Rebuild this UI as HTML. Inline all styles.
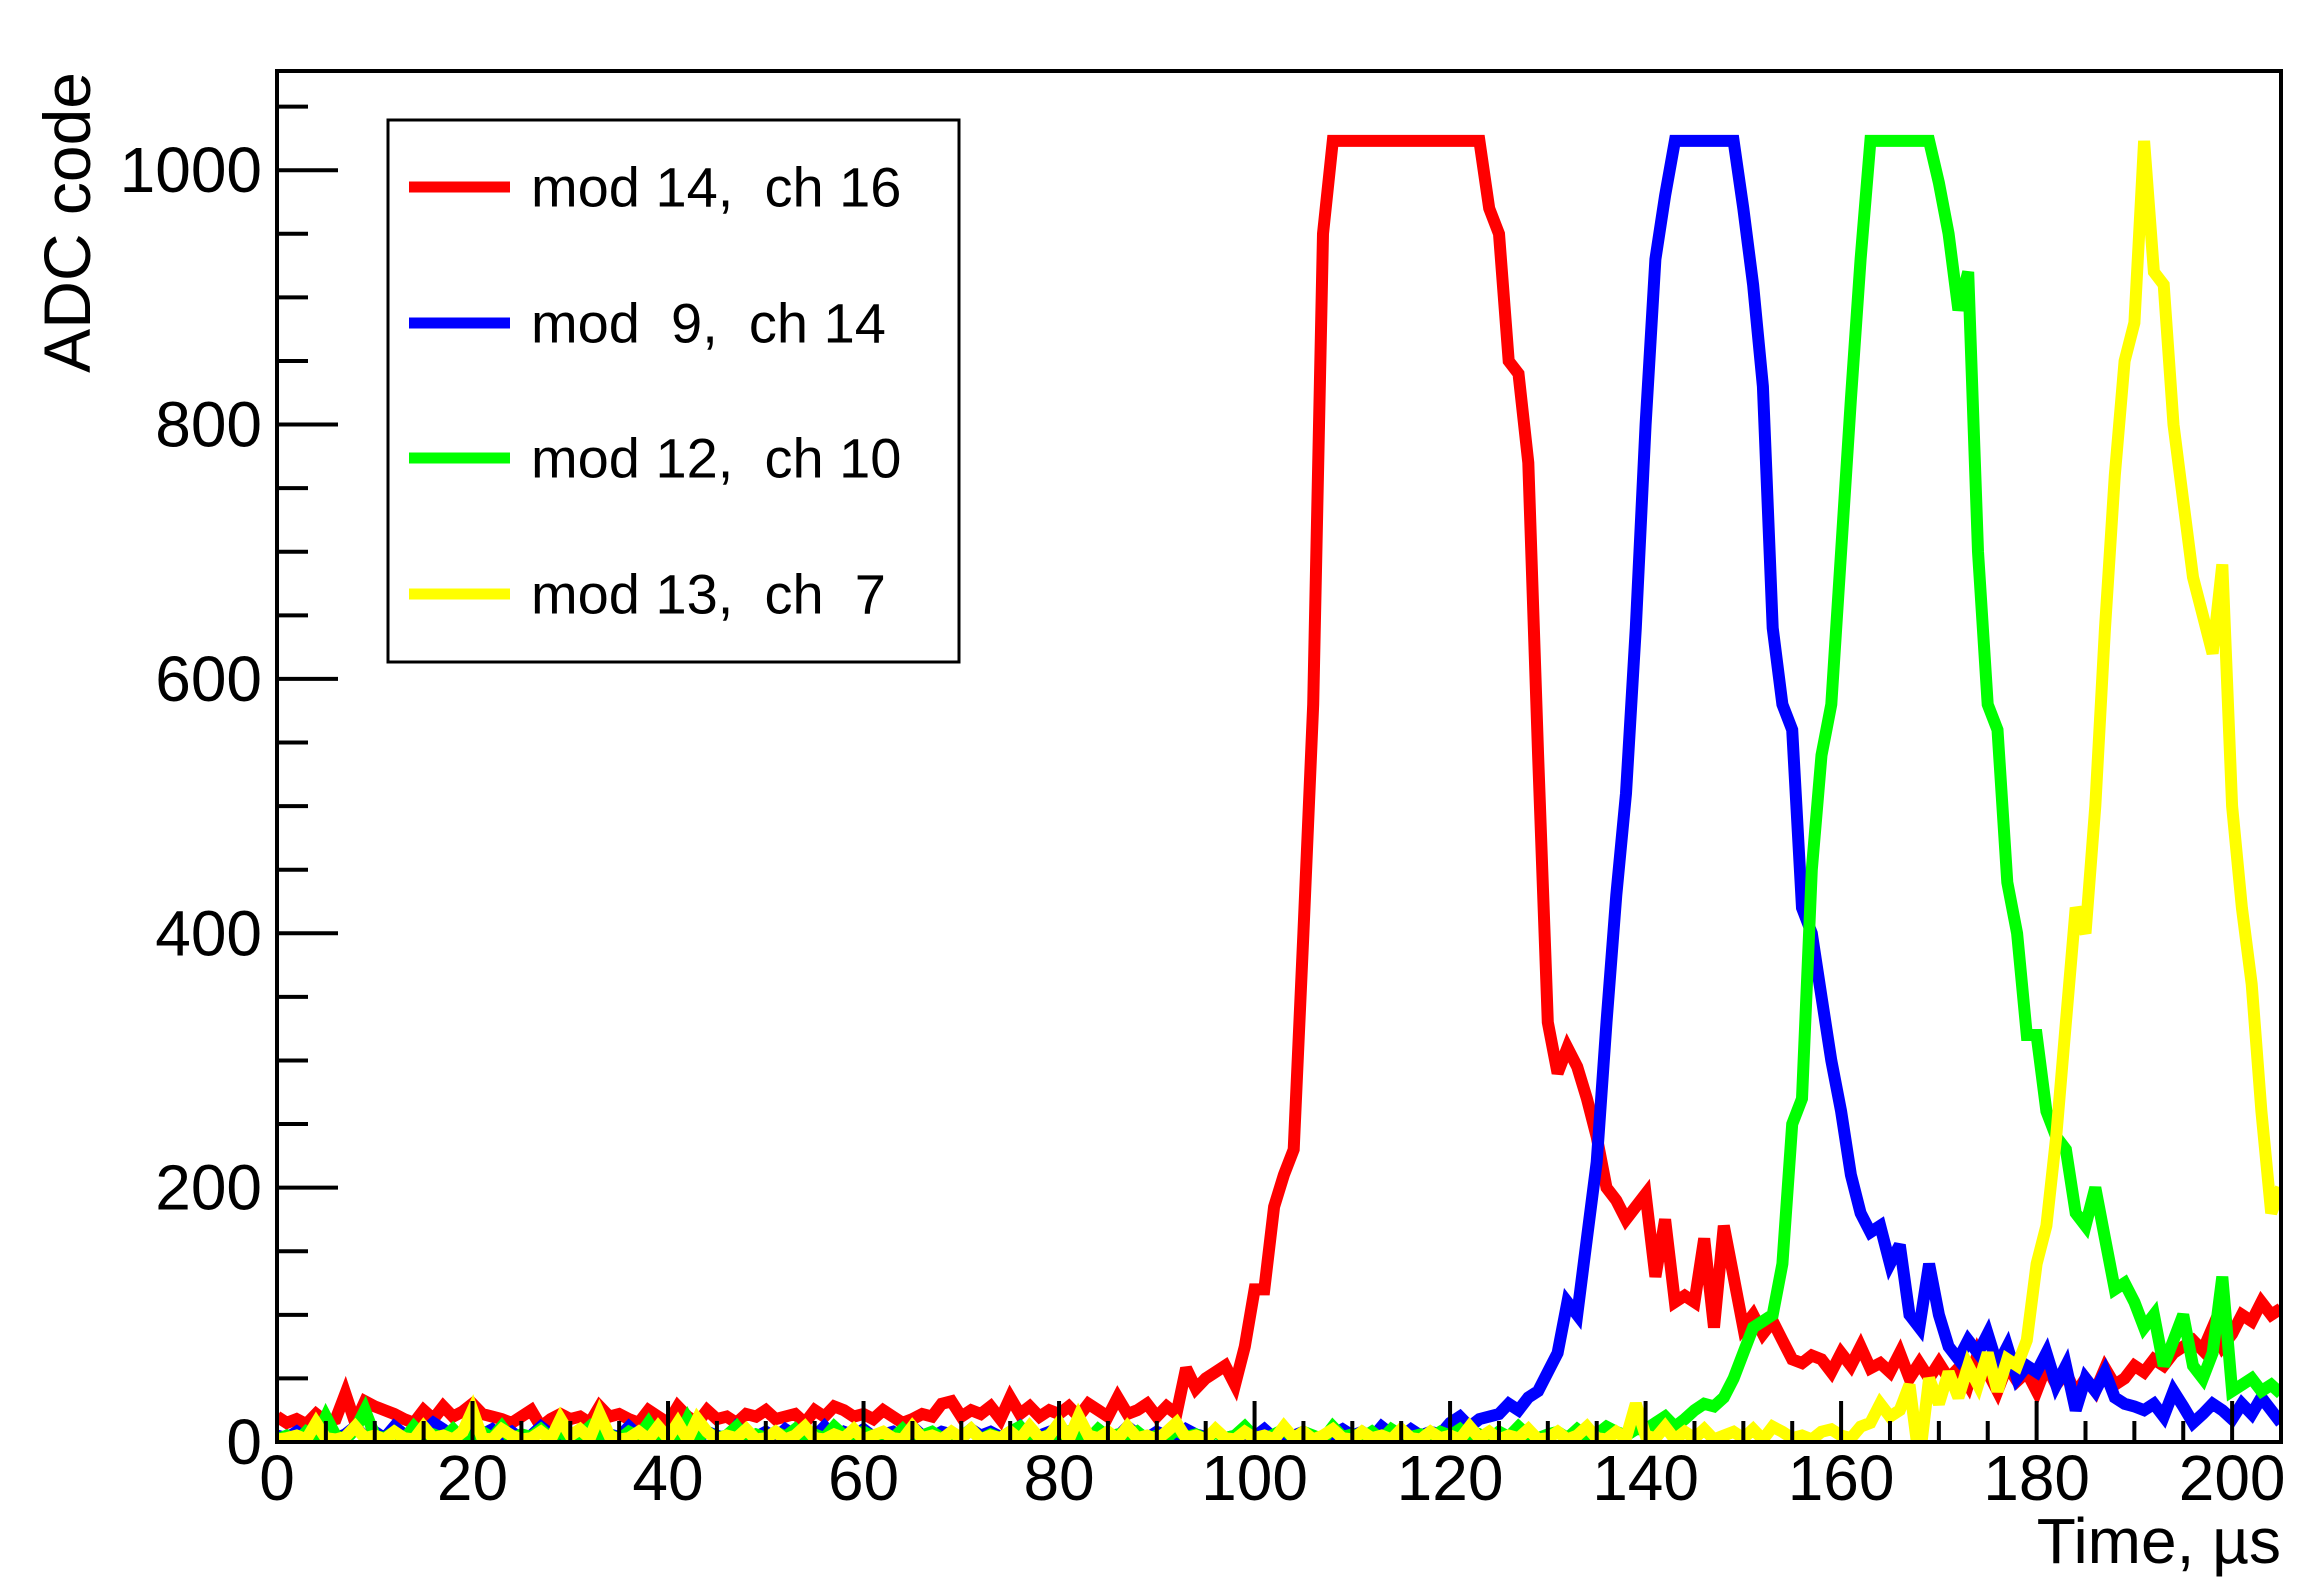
<!DOCTYPE html>
<html><head><meta charset="utf-8"><style>
html,body{margin:0;padding:0;background:#fff;}
svg{display:block;font-family:"Liberation Sans",Arial,sans-serif;}
</style></head><body>
<svg id="chart" width="2320" height="1591" viewBox="0 0 2320 1591" xmlns="http://www.w3.org/2000/svg">
<defs><clipPath id="plotclip"><rect x="277" y="71" width="2004" height="1371"/></clipPath></defs>
<rect x="0" y="0" width="2320" height="1591" fill="#fff"/>
<g id="series" clip-path="url(#plotclip)"></g>
<rect x="277" y="71" width="2004" height="1371" fill="none" stroke="#000" stroke-width="4"/>
<g id="axes"></g>
<text x="67" y="72" font-size="66" text-anchor="end" transform="rotate(-90 67 72)" dy="23">ADC code</text>
<text x="2281" y="1563" font-size="64" text-anchor="end">Time, µs</text>
<g>
<rect x="388" y="120" width="571" height="542" fill="#fff" stroke="#000" stroke-width="3"/>
<line x1="409" y1="187" x2="510" y2="187" stroke="#ff0000" stroke-width="11"/>
<text x="531" y="187" font-size="56" dominant-baseline="central" xml:space="preserve">mod 14,  ch 16</text>
<line x1="409" y1="323" x2="510" y2="323" stroke="#0000ff" stroke-width="11"/>
<text x="531" y="323" font-size="56" dominant-baseline="central" xml:space="preserve">mod  9,  ch 14</text>
<line x1="409" y1="458" x2="510" y2="458" stroke="#00ff00" stroke-width="11"/>
<text x="531" y="458" font-size="56" dominant-baseline="central" xml:space="preserve">mod 12,  ch 10</text>
<line x1="409" y1="594" x2="510" y2="594" stroke="#ffff00" stroke-width="11"/>
<text x="531" y="594" font-size="56" dominant-baseline="central" xml:space="preserve">mod 13,  ch  7</text>
</g>
</svg>
<script>
const xTickLabels = [0,20,40,60,80,100,120,140,160,180,200];
const yTickLabels = [0,200,400,600,800,1000];
const redValues = [
20,15,18,14,22,16,18,38,15,32,
28,25,22,18,15,25,18,28,20,24,
30,22,20,18,15,20,25,12,18,22,
18,20,15,28,20,22,18,15,25,20,
15,28,20,15,25,18,20,15,22,20,
25,18,20,22,15,25,20,28,25,20,
22,18,25,20,15,18,22,20,30,32,
20,25,22,28,18,35,22,28,20,25,
22,28,20,30,25,20,35,22,25,30,
20,28,22,58,42,50,55,60,45,75,
120,120,185,210,230,400,580,950,1023,1023,
1023,1023,1023,1023,1023,1023,1023,1023,1023,1023,
1023,1023,1023,1023,970,950,850,840,770,540,
330,290,310,295,270,240,200,190,175,185,
195,130,175,110,115,110,160,90,170,130,
90,100,85,95,80,65,62,68,65,55,
70,60,75,58,62,55,70,50,62,50,
62,50,58,45,70,55,40,60,48,55,
40,60,45,55,38,50,40,58,45,50,
60,55,65,60,70,75,80,72,90,75,
85,100,95,110,100,105];
const blueValues = [
5,3,8,2,10,5,3,6,12,4,
8,3,12,6,2,8,15,10,4,8,
3,6,10,4,8,2,5,12,6,3,
5,8,3,10,6,4,12,5,8,3,
6,4,10,3,8,5,2,12,6,4,
8,3,10,5,6,4,12,3,8,5,
10,4,6,8,3,12,5,4,8,6,
3,10,5,8,4,6,12,3,5,8,
4,6,10,3,8,5,4,12,6,3,
8,5,3,10,6,4,8,3,5,6,
4,10,3,6,5,8,4,3,6,10,
5,8,3,12,6,4,10,5,8,6,
15,20,12,18,20,22,30,25,35,40,
55,70,110,100,160,220,330,430,510,640,
800,930,980,1023,1023,1023,1023,1023,1023,1023,
970,910,830,640,580,560,420,400,350,300,
260,210,180,165,170,140,155,100,90,140,
100,75,65,80,70,85,60,75,50,60,
55,70,45,60,25,50,40,55,35,30,
28,25,30,20,40,28,15,22,30,25,
18,30,22,35,25,15];
const greenValues = [
2,5,0,8,3,20,5,2,10,25,
5,3,8,2,12,4,6,3,10,2,
5,8,3,12,2,6,4,10,3,8,
2,5,12,3,6,2,8,4,15,3,
6,2,18,4,8,3,5,12,2,6,
3,8,4,10,2,6,3,12,5,2,
8,4,6,3,10,2,5,8,3,6,
4,10,2,6,3,8,12,4,2,6,
3,8,5,2,10,4,6,3,8,2,
5,3,10,4,6,2,8,3,5,12,
4,2,6,10,3,8,5,2,12,4,
6,3,8,2,10,5,4,6,3,8,
5,10,3,6,2,8,4,12,5,3,
6,8,3,10,4,6,12,8,5,10,
10,15,20,12,18,25,30,28,35,50,
70,90,95,100,140,250,270,450,540,580,
700,820,930,1023,1023,1023,1023,1023,1023,1023,
990,950,890,920,700,580,560,440,400,320,
320,260,240,230,180,170,200,160,120,125,
110,90,100,60,80,100,60,50,70,130,
40,45,50,40,45,38];
const yellowValues = [
2,3,5,2,15,3,2,4,12,3,
5,2,8,3,2,12,3,5,2,8,
25,3,2,10,5,2,3,8,2,18,
5,10,3,22,5,2,3,8,2,12,
3,15,2,18,8,2,5,3,10,2,
3,8,2,5,12,3,2,6,3,10,
2,5,8,3,2,12,3,5,2,8,
3,10,2,5,3,8,2,12,3,5,
15,2,20,5,3,8,2,12,3,5,
2,8,15,3,5,2,10,3,2,8,
3,5,2,12,3,8,2,5,10,3,
2,8,3,5,2,10,3,2,8,3,
5,2,12,3,8,2,5,3,10,2,
3,8,2,5,12,3,2,8,3,30,
5,3,12,2,8,3,10,2,5,8,
3,10,2,12,8,3,5,2,8,10,
5,3,12,15,30,20,25,45,-15,50,
30,55,35,60,45,70,40,65,60,80,
140,170,240,330,420,400,500,640,760,850,
880,1023,920,910,800,740,680,650,620,690,
500,420,360,260,180,200];

const NS = "http://www.w3.org/2000/svg";
const X0 = 277, X1 = 2281, Y0 = 1442, Y1 = 71;
const XMIN = 0, XMAX = 205, YMIN = 0, YMAX = 1078;
function xs(v){ return X0 + (v - XMIN) / (XMAX - XMIN) * (X1 - X0); }
function ys(v){ return Y0 - (v - YMIN) / (YMAX - YMIN) * (Y0 - Y1); }

const axes = document.getElementById('axes');
function mk(tag, attrs){ const e = document.createElementNS(NS, tag); for (const k in attrs) e.setAttribute(k, attrs[k]); return e; }

for (let v = 0; v <= XMAX; v += 5) {
  const major = v % 20 === 0;
  const t = mk('line', {x1: xs(v), x2: xs(v), y1: Y0, y2: Y0 - (major ? 41 : 21), stroke: '#000', 'stroke-width': 4});
  
  
  axes.appendChild(t);
}
xTickLabels.forEach(v => {
  const t = mk('text', {x: xs(v), y: 1500, 'font-size': 64, 'text-anchor': 'middle'});
  t.textContent = v;
  
  
  axes.appendChild(t);
});
for (let v = 0; v <= YMAX; v += 50) {
  const major = v % 200 === 0;
  const t = mk('line', {x1: X0, x2: X0 + (major ? 61 : 31), y1: ys(v), y2: ys(v), stroke: '#000', 'stroke-width': 4});
  
  
  axes.appendChild(t);
}
yTickLabels.forEach(v => {
  const t = mk('text', {x: 262, y: ys(v), 'font-size': 64, 'text-anchor': 'end', 'dominant-baseline': 'central'});
  t.textContent = v;
  
  
  axes.appendChild(t);
});

const series = document.getElementById('series');
function drawLine(vals, color, name){
  const pts = vals.map((v, i) => xs(i).toFixed(1) + ',' + ys(v).toFixed(1)).join(' ');
  const p = mk('polyline', {points: pts, fill: 'none', stroke: color, 'stroke-width': 12, 'stroke-linejoin': 'miter', 'stroke-miterlimit': 3});
  
  
  series.appendChild(p);
}
drawLine(redValues, '#ff0000', 'series-mod14-ch16');
drawLine(blueValues, '#0000ff', 'series-mod9-ch14');
drawLine(greenValues, '#00ff00', 'series-mod12-ch10');
drawLine(yellowValues, '#ffff00', 'series-mod13-ch7');
</script>
</body></html>
